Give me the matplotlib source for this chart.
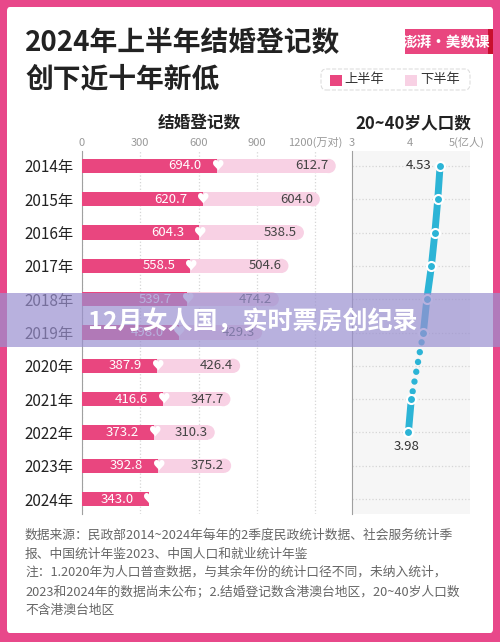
import numpy as np
import matplotlib.pyplot as plt
from matplotlib.patches import Rectangle, FancyBboxPatch

plt.rcParams['font.family'] = ['Noto Sans CJK SC', 'DejaVu Sans']

# data
years = ['2014年', '2015年', '2016年', '2017年', '2018年', '2019年',
         '2020年', '2021年', '2022年', '2023年', '2024年']
first_half = [694.0, 620.7, 604.3, 558.5, 539.7, 498.0, 387.9, 416.6, 373.2, 392.8, 343.0]
second_half = [612.7, 604.0, 538.5, 504.6, 474.2, 429.3, 426.4, 347.7, 310.3, 375.2, None]
# 20~40 population (亿人); 2020 and 2023/2024 not included
population = [4.53, 4.49, 4.44, 4.38, 4.30, 4.24, np.nan, 4.03, 3.98, np.nan, np.nan]
bar_ticks = [0, 300, 600, 900, 1200]
bar_tick_labels = ['0', '300', '600', '900', '1200(万对)']
pop_ticks = [3, 4, 5]
pop_tick_labels = ['3', '4', '5(亿人)']

PINK = '#e9467f'
LIGHT = '#f8d1e4'
BORDER = '#e8488a'
CYAN = '#2cb4d6'
W, H = 500, 642


def fx(x):
    return x / W


def fy(y):
    return 1 - y / H


fig = plt.figure(figsize=(5, 6.42), dpi=100, facecolor=BORDER)
fig.add_artist(FancyBboxPatch((fx(7), fy(633)), fx(486), 626 / H,
                              boxstyle='round,pad=0,rounding_size=0.006',
                              transform=fig.transFigure, facecolor='white',
                              edgecolor='none', zorder=0))

# title
fig.text(fx(25), fy(43), '2024年上半年结婚登记数', fontsize=20, fontweight='bold',
         color='#222222', va='center')
fig.text(fx(25), fy(79), '创下近十年新低', fontsize=20, fontweight='bold',
         color='#222222', va='center')

# logo
fig.add_artist(Rectangle((fx(405), fy(54)), fx(88), 25 / H, transform=fig.transFigure,
                         facecolor=PINK, edgecolor='none', zorder=1))
fig.add_artist(Rectangle((fx(488), fy(54)), fx(5), 25 / H, transform=fig.transFigure,
                         facecolor='#c8102e', edgecolor='none', zorder=1))
fig.text(fx(446), fy(42), '澎湃·美数课', fontsize=10.5, fontweight='bold', color='white',
         ha='center', va='center', zorder=2)

# legend
fig.add_artist(FancyBboxPatch((fx(321), fy(90)), fx(149), 21 / H,
                              boxstyle='round,pad=0,rounding_size=0.01',
                              transform=fig.transFigure, facecolor='white',
                              edgecolor='#dddddd', linestyle='--', linewidth=0.8, zorder=1))
fig.add_artist(Rectangle((fx(330), fy(86)), fx(12), 11 / H, transform=fig.transFigure,
                         facecolor=PINK, edgecolor='none', zorder=2))
fig.text(fx(344), fy(80), '上半年', fontsize=9.5, color='#333333', va='center')
fig.add_artist(Rectangle((fx(405), fy(86)), fx(12), 11 / H, transform=fig.transFigure,
                         facecolor=LIGHT, edgecolor='none', zorder=2))
fig.text(fx(420), fy(80), '下半年', fontsize=9.5, color='#333333', va='center')

# panel headers
fig.text(fx(199), fy(123), '结婚登记数', fontsize=12, fontweight='bold', color='#222222',
         ha='center', va='center')
fig.text(fx(413), fy(123), '20~40岁人口数', fontsize=12, fontweight='bold', color='#222222',
         ha='center', va='center')

y = np.arange(len(years))

# left panel: marriage registrations
ax = fig.add_axes([fx(82), fy(514), fx(268), 363 / H])
ax.set_xlim(0, 1380)
ax.set_ylim(len(years) - 0.55, -0.45)
bh = 0.43
r = 36.8  # radius of the rounded end in data units
ax.barh(y, first_half, height=bh, color=PINK, zorder=3)
for i, (h1, h2) in enumerate(zip(first_half, second_half)):
    if h2 is not None:
        ax.barh(i, h2 - r, left=h1, height=bh, color=LIGHT, zorder=2)
        ax.scatter(h1 + h2 - r, i, s=106, color=LIGHT, edgecolors='none', zorder=2)
        ax.annotate(f'{h2:.1f}', (h1 + h2, i), xytext=(-5, 0), textcoords='offset points',
                    ha='right', va='center', color='#444444', fontsize=9.5, zorder=4)
    ax.annotate(f'{h1:.1f}', (h1, i), xytext=(-11, 0), textcoords='offset points',
                ha='right', va='center', color='white', fontsize=9.5, zorder=4)
    ax.text(h1, i, '♥', color='white', fontsize=9, ha='center', va='center', zorder=5)

ax.set_yticks(y)
ax.set_yticklabels(years, fontsize=11, color='#222222')
ax.set_xticks(bar_ticks)
ax.set_xticklabels(bar_tick_labels, fontsize=8, color='#999999')
ax.xaxis.tick_top()
ax.tick_params(axis='both', length=0)
ax.tick_params(axis='y', pad=6)
ax.tick_params(axis='x', pad=2)
ax.xaxis.grid(True, linestyle=':', color='#d6d6d6', linewidth=0.9)
ax.set_axisbelow(True)
for s in ['top', 'right', 'bottom']:
    ax.spines[s].set_visible(False)
ax.spines['left'].set_color('#a0a0a0')
ax.patch.set_alpha(0)

# right panel: population aged 20~40
ax2 = fig.add_axes([fx(352), fy(514), fx(118), 363 / H])
ax2.set_facecolor('#f6f6f6')
ax2.set_xlim(3, 5.05)
ax2.set_ylim(len(years) - 0.55, -0.45)
ax2.plot(population, y, color=CYAN, linewidth=5, solid_capstyle='round', zorder=3)
ax2.plot([population[5], population[7]], [y[5], y[7]], color=CYAN, linewidth=4.6,
         linestyle=(0, (0.01, 1.55)), dash_capstyle='round', zorder=3)
ax2.plot(population, y, 'o', markersize=6.5, markerfacecolor=CYAN,
         markeredgecolor='white', markeredgewidth=1.5, zorder=4)
ax2.annotate(f'{population[0]:.2f}', (population[0], y[0]), xytext=(-6, 0),
             textcoords='offset points', ha='right', va='center', fontsize=9.5,
             color='#333333')
ax2.annotate(f'{population[8]:.2f}', (population[8], y[8]), xytext=(-1, -10),
             textcoords='offset points', ha='center', va='center', fontsize=9.5,
             color='#333333')
ax2.set_yticks(y)
ax2.set_yticklabels([])
ax2.set_xticks(pop_ticks)
ax2.set_xticklabels(pop_tick_labels, fontsize=8, color='#999999')
ax2.xaxis.tick_top()
ax2.tick_params(axis='both', length=0)
ax2.tick_params(axis='x', pad=2)
ax2.yaxis.grid(True, linestyle=':', color='#d6d6d6', linewidth=0.9)
ax2.set_axisbelow(True)
for s in ['top', 'right', 'bottom']:
    ax2.spines[s].set_visible(False)
ax2.spines['left'].set_color('#a0a0a0')

# footer notes
notes = [
    '数据来源：民政部2014~2024年每年的2季度民政统计数据、社会服务统计季',
    '报、中国统计年鉴2023、中国人口和就业统计年鉴',
    '注：1.2020年为人口普查数据，与其余年份的统计口径不同，未纳入统计，',
    '2023和2024年的数据尚未公布；2.结婚登记数含港澳台地区，20~40岁人口数',
    '不含港澳台地区',
]
for k, line in enumerate(notes):
    fig.text(fx(25), fy(535 + 18.8 * k), line, fontsize=9.2, color='#666666', va='center')

# translucent banner over the chart
fig.add_artist(Rectangle((0, fy(347)), 1, 54 / H, transform=fig.transFigure,
                         facecolor='#9a90d0', alpha=0.7, edgecolor='none', zorder=10))
fig.text(fx(88), fy(322), '12月女人国，实时票房创纪录', fontsize=18, fontweight='bold',
         color='white', va='center', zorder=11)

fig.savefig('out.png', dpi=100, facecolor=BORDER)
